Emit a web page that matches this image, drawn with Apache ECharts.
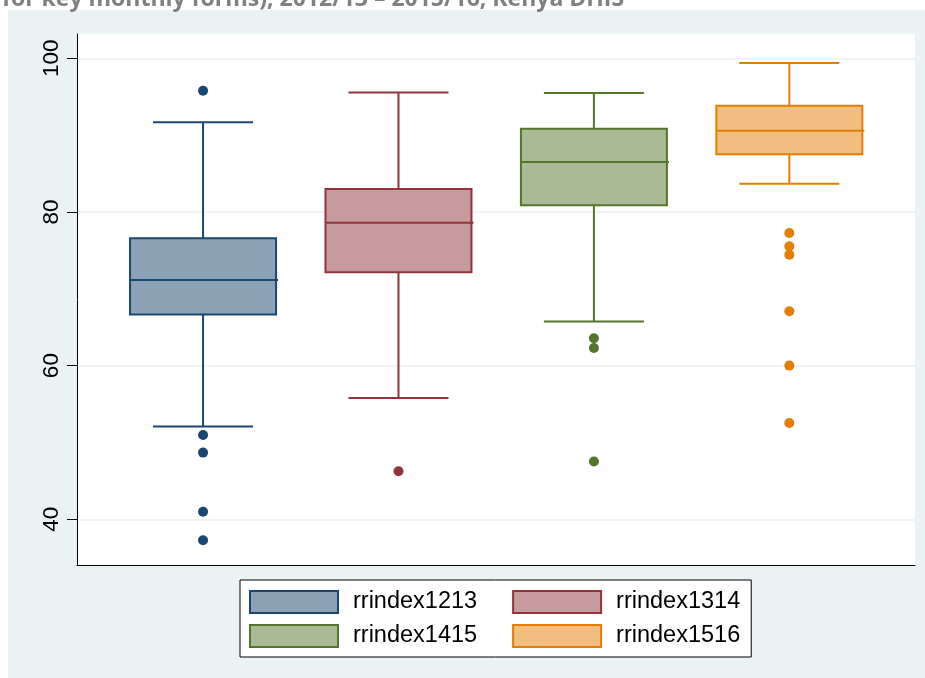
<!DOCTYPE html>
<html><head><meta charset="utf-8">
<script src="https://cdn.jsdelivr.net/npm/echarts@6/dist/echarts.min.js"></script>
<style>
html,body{margin:0;padding:0;background:#fff}
#wrap{position:relative;width:925px;height:678px;overflow:hidden;background:#fff}
#bg{position:absolute;left:8px;top:10px;width:917px;height:668px;background:#eaf2f3}
#c{position:absolute;left:0;top:0;width:925px;height:678px}
</style>
</head><body><div id="wrap"><div id="bg"></div><div id="c"></div></div>
<script>
const categories = ['rrindex1213', 'rrindex1314', 'rrindex1415', 'rrindex1516'];
const whiskerLow = [52.06, 55.8, 65.73, 83.68];
const q1 = [66.64, 72.14, 80.86, 87.5];
const median = [71.15, 78.6, 86.5, 90.58];
const q3 = [76.57, 82.99, 90.84, 93.83];
const whiskerHigh = [91.66, 95.56, 95.48, 99.39];
const outliers1213 = [95.78, 50.98, 48.68, 40.99, 37.27];
const outliers1314 = [46.25];
const outliers1415 = [63.56, 62.3, 47.51];
const outliers1516 = [77.27, 75.52, 74.44, 67.07, 60.0, 52.54];
const outlierLists = [outliers1213, outliers1314, outliers1415, outliers1516];
const yTicks = [40, 60, 80, 100];
const titleText = 'for key monthly forms), 2012/13 \u2013 2015/16, Kenya DHIS';

const lineColors = ['#1a476f', '#90353b', '#55752f', '#e37e00'];
const fillColors = ['#8ca3b7', '#c79a9d', '#aaba97', '#f1be7f'];

function makeRender(stroke, fill) {
  return function (params, api) {
    const x = api.value(0);
    const pLo = api.coord([x, api.value(1)]);
    const pQ1 = api.coord([x, api.value(2)]);
    const pMed = api.coord([x, api.value(3)]);
    const pQ3 = api.coord([x, api.value(4)]);
    const pHi = api.coord([x, api.value(5)]);
    const cx = pLo[0];
    const hb = 73, hc = 50;
    const ls = { stroke: stroke, lineWidth: 2 };
    return {
      type: 'group',
      children: [
        { type: 'line', shape: { x1: cx, y1: pQ3[1], x2: cx, y2: pHi[1] }, style: ls },
        { type: 'line', shape: { x1: cx, y1: pQ1[1], x2: cx, y2: pLo[1] }, style: ls },
        { type: 'line', shape: { x1: cx - hc, y1: pHi[1], x2: cx + hc, y2: pHi[1] }, style: ls },
        { type: 'line', shape: { x1: cx - hc, y1: pLo[1], x2: cx + hc, y2: pLo[1] }, style: ls },
        { type: 'rect', shape: { x: cx - hb, y: pQ3[1], width: 2 * hb, height: pQ1[1] - pQ3[1] },
          style: { fill: fill, stroke: stroke, lineWidth: 2 } },
        { type: 'line', shape: { x1: cx - hb, y1: pMed[1], x2: cx + hb + 2, y2: pMed[1] }, style: ls }
      ]
    };
  };
}

const series = [];
categories.forEach(function (name, i) {
  series.push({
    type: 'custom',
    name: name,
    renderItem: makeRender(lineColors[i], fillColors[i]),
    encode: { x: 0, y: [1, 2, 3, 4, 5] },
    data: [[i + 1, whiskerLow[i], q1[i], median[i], q3[i], whiskerHigh[i]]],
    itemStyle: { color: fillColors[i], borderColor: lineColors[i] },
    z: 2
  });
});
categories.forEach(function (name, i) {
  series.push({
    type: 'scatter',
    name: name,
    symbol: 'circle',
    symbolSize: 10,
    itemStyle: { color: lineColors[i], opacity: 1 },
    data: outlierLists[i].map(function (v) { return [i + 1, v]; }),
    z: 3
  });
});

const chart = echarts.init(document.getElementById('c'), null, { renderer: 'canvas' });
chart.setOption({
  animation: false,
  backgroundColor: 'transparent',
  graphic: {
    elements: [
      { type: 'text', z: 10, silent: true, style: { x: 2, y: 11, text: titleText, verticalAlign: 'bottom',
        font: 'bold 23px "Open Sans"', fill: '#808080' } }
    ]
  },
  grid: { left: 77, right: 10, top: 34, bottom: 113, show: true, backgroundColor: '#ffffff', borderWidth: 0 },
  xAxis: {
    type: 'value', min: 0.355, max: 4.643,
    axisLine: { show: true, onZero: false, lineStyle: { color: '#000', width: 1 } },
    axisTick: { show: false }, axisLabel: { show: false }, splitLine: { show: false }
  },
  yAxis: {
    type: 'value', min: 34.05, max: 103.16,
    axisLine: { show: true, lineStyle: { color: '#000', width: 1 } },
    axisTick: { show: true, length: 10, customValues: yTicks, lineStyle: { color: '#000', width: 1 } },
    axisLabel: { customValues: yTicks, rotate: 90, fontSize: 22.5, fontFamily: 'Liberation Sans', color: '#000', margin: 14 },
    splitLine: { show: true, lineStyle: { color: '#eaf2f3', width: 1.5 } }
  },
  legend: {
    left: 240, top: 580, orient: 'horizontal', width: 500,
    padding: [10, 11, 9, 9], itemGap: 10, itemWidth: 88, itemHeight: 22,
    backgroundColor: '#ffffff', borderColor: '#000', borderWidth: 1,
    selectedMode: false,
    textStyle: { fontFamily: 'Liberation Sans', fontSize: 23.5, color: '#000', lineHeight: 22 },
    data: categories.map(function (name, i) {
      return {
        name: name, icon: 'rect',
        itemStyle: { color: fillColors[i], borderColor: lineColors[i], borderWidth: 2 },
        textStyle: { padding: i % 2 === 0 ? [0, 25, 0, 10] : [0, 0, 0, 10] }
      };
    })
  },
  series: series
});
</script></body></html>
